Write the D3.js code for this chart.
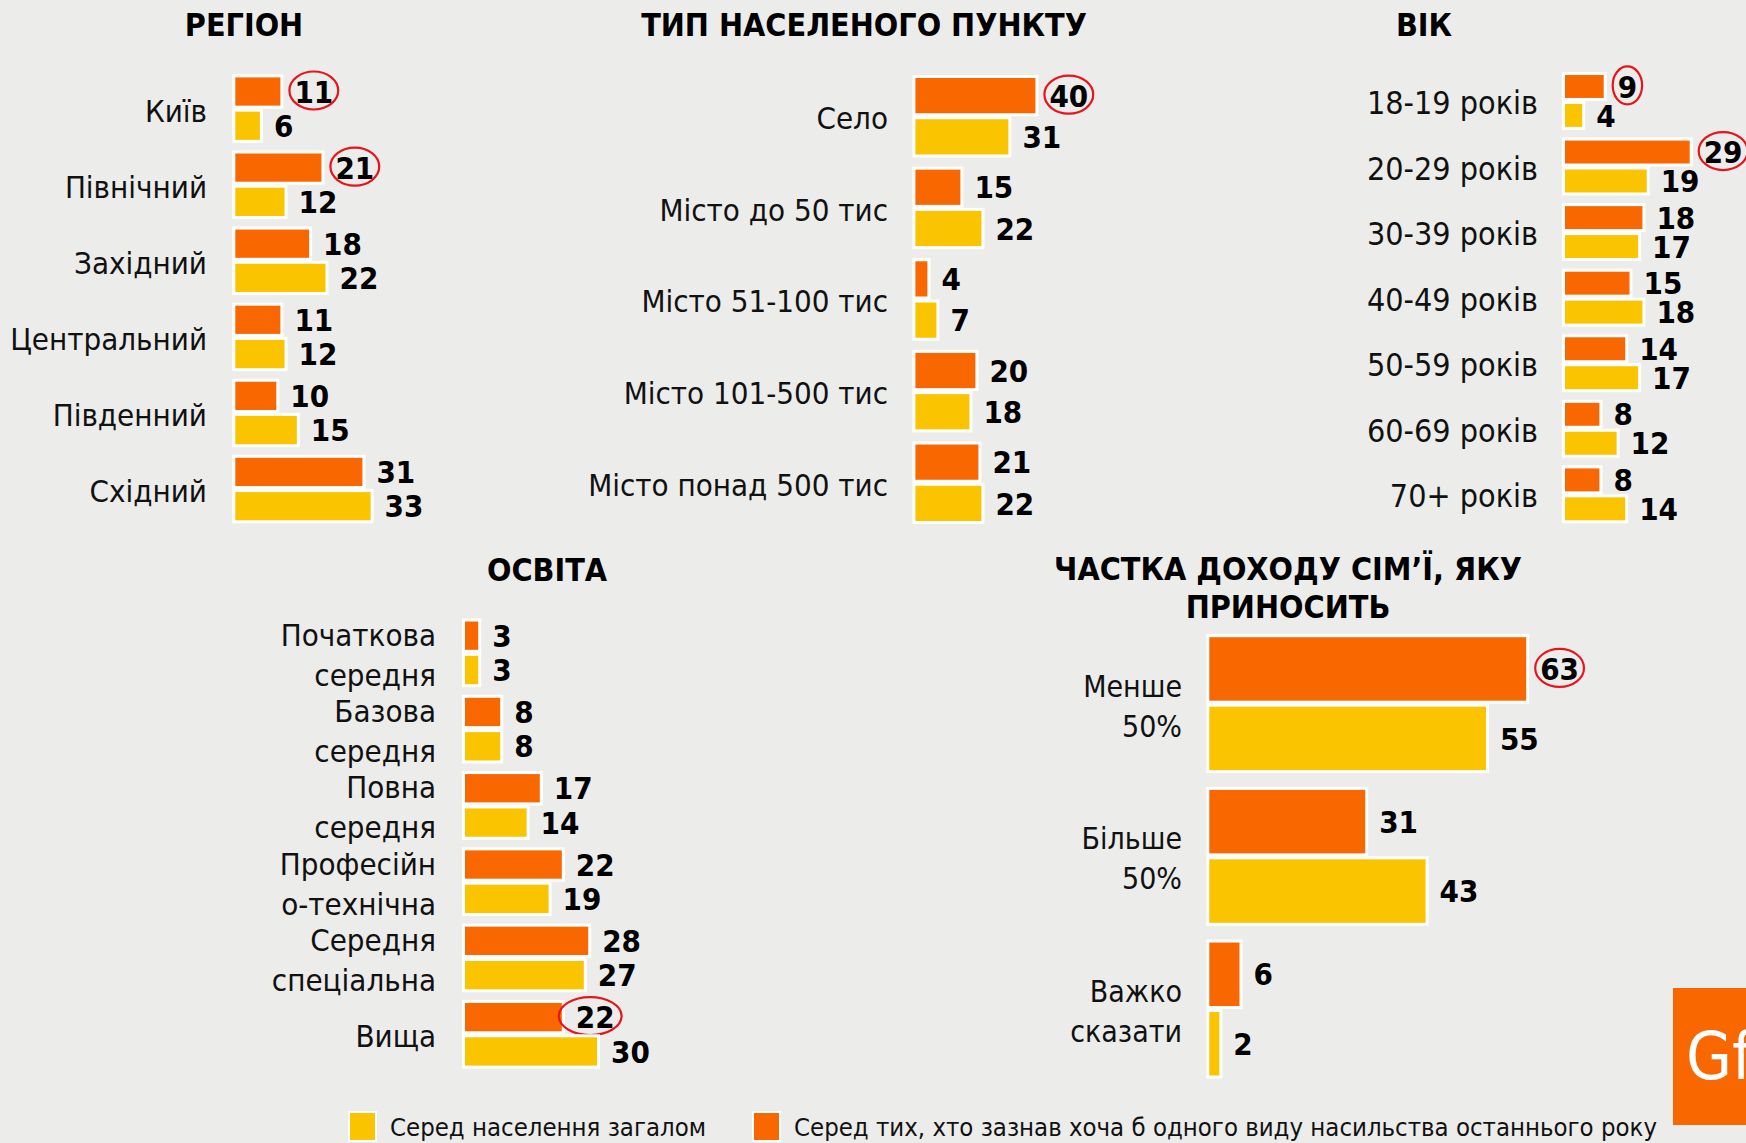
<!DOCTYPE html>
<html>
<head>
<meta charset="utf-8">
<script src="https://cdn.jsdelivr.net/npm/d3@7"></script>
<style>
body { margin: 0; background: #ecedeb; }
svg { display: block; }
text { font-family: "DejaVu Sans Condensed", "DejaVu Sans", sans-serif; font-stretch: condensed; }
</style>
</head>
<body>
<svg id="chart" width="1746" height="1143"></svg>
<script>
'use strict'

// Регіон
const regionLabels = [['Київ'], ['Північний'], ['Західний'], ['Центральний'], ['Південний'], ['Східний']]
const regionVictims = [11, 21, 18, 11, 10, 31]
const regionAll = [6, 12, 22, 12, 15, 33]

// Тип населеного пункту
const settlementLabels = [['Село'], ['Місто до 50 тис'], ['Місто 51-100 тис'], ['Місто 101-500 тис'], ['Місто понад 500 тис']]
const settlementVictims = [40, 15, 4, 20, 21]
const settlementAll = [31, 22, 7, 18, 22]

// Вік
const ageLabels = [['18-19 років'], ['20-29 років'], ['30-39 років'], ['40-49 років'], ['50-59 років'], ['60-69 років'], ['70+ років']]
const ageVictims = [9, 29, 18, 15, 14, 8, 8]
const ageAll = [4, 19, 17, 18, 17, 12, 14]

// Освіта
const eduLabels = [['Початкова', 'середня'], ['Базова', 'середня'], ['Повна', 'середня'], ['Професійн', 'о-технічна'], ['Середня', 'спеціальна'], ['Вища']]
const eduVictims = [3, 8, 17, 22, 28, 22]
const eduAll = [3, 8, 14, 19, 27, 30]

// Частка доходу
const incomeLabels = [['Менше', '50%'], ['Більше', '50%'], ['Важко', 'сказати']]
const incomeVictims = [63, 31, 6]
const incomeAll = [55, 43, 2]

// values circled in red (index of the category)
const regionMarked = [0, 1]
const settlementMarked = [0]
const ageMarked = [0, 1]
const eduMarked = [5]
const incomeMarked = [0]

const legendLabels = ['Серед населення загалом', 'Серед тих, хто зазнав хоча б одного виду насильства останнього року']

const ORANGE = '#f96800'
const YELLOW = '#fbc400'

const svg = d3.select('#chart')
svg.append('rect').attr('width', 1746).attr('height', 1143).attr('fill', '#ecedeb')

function drawPanel(p) {
    const g = svg.append('g')
    const n = p.labels.length
    const y = d3.scaleBand().domain(d3.range(n)).range(p.yRange).paddingInner(p.pad)
    const sub = d3.scaleBand().domain([0, 1]).range([0, y.bandwidth()])
    const x = d3.scaleLinear().domain([0, 10]).range([p.x0, p.x0 + p.k * 10])
    const h = sub.bandwidth()

    // title
    g.append('text')
        .attr('text-anchor', 'middle')
        .attr('font-weight', 'bold')
        .attr('font-size', 32)
        .selectAll('tspan').data(p.title).join('tspan')
        .attr('x', p.titleX)
        .attr('y', (d, i) => p.titleY + i * 38)
        .text(d => d)

    const rows = p.labels.map((lab, i) => ({ i, lab, vals: [p.victims[i], p.all[i]] }))
    const row = g.selectAll('g.row').data(rows).join('g')
        .attr('class', 'row')
        .attr('transform', d => `translate(0,${y(d.i)})`)

    // category labels
    row.append('text')
        .attr('text-anchor', 'end')
        .attr('font-size', p.labelSize || 31)
        .attr('fill', '#111')
        .selectAll('tspan').data(d => d.lab.map((t, j) => ({ t, j, n: d.lab.length }))).join('tspan')
        .attr('x', p.labelX)
        .attr('y', d => y.bandwidth() / 2 + 13 + (d.j - (d.n - 1) / 2) * 40)
        .text(d => d.t)

    const cells = row.selectAll('g.cell').data(d => d.vals.map((v, j) => ({ v, j, i: d.i }))).join('g')
        .attr('class', 'cell')

    cells.append('rect')
        .attr('x', p.x0 - 1.5)
        .attr('y', d => sub(d.j) + 1.5)
        .attr('width', d => x(d.v) - p.x0 + 3)
        .attr('height', h - 3)
        .attr('fill', d => d.j === 0 ? ORANGE : YELLOW)
        .attr('stroke', '#fff')
        .attr('stroke-width', 3)

    const vals = cells.append('text')
        .attr('x', d => x(d.v) + 14)
        .attr('y', d => sub(d.j) + h / 2)
        .attr('dy', '0.36em')
        .attr('font-size', 31)
        .attr('font-weight', 'bold')
        .attr('fill', '#000')
        .text(d => d.v)

    // red rings round the highlighted values
    vals.filter(d => d.j === 0 && p.marked.includes(d.i)).each(function (d) {
        const w = this.getComputedTextLength()
        d3.select(this.parentNode).append('ellipse')
            .attr('cx', x(d.v) + 14 + w / 2 + (p.ringShift || 0))
            .attr('cy', sub(0) + h / 2 - 1)
            .attr('rx', w / 2 + (p.ringPad || 5))
            .attr('ry', 19)
            .attr('fill', 'none')
            .attr('stroke', '#e8141b')
            .attr('stroke-width', 2.2)
    })
}

drawPanel({
    title: ['РЕГІОН'], titleX: 244, titleY: 36,
    labels: regionLabels, victims: regionVictims, all: regionAll, marked: regionMarked,
    yRange: [74.4, 523.3], pad: 0.1, x0: 235.3, k: 4.1, labelX: 207
})
drawPanel({
    title: ['ТИП НАСЕЛЕНОГО ПУНКТУ'], titleX: 864, titleY: 36,
    labels: settlementLabels, victims: settlementVictims, all: settlementAll, marked: settlementMarked,
    yRange: [75, 524], pad: 0.1, x0: 915.4, k: 3.0, labelX: 888
})
drawPanel({
    title: ['ВІК'], titleX: 1424, titleY: 36,
    labels: ageLabels, victims: ageVictims, all: ageAll, marked: ageMarked,
    yRange: [72, 523.3], pad: 0.117, x0: 1565, k: 4.3, labelX: 1538, labelSize: 32
})
drawPanel({
    title: ['ОСВІТА'], titleX: 547, titleY: 581,
    labels: eduLabels, victims: eduVictims, all: eduAll, marked: eduMarked,
    yRange: [618.5, 1068.6], pad: 0.1, x0: 465, k: 4.4, labelX: 436,
    ringShift: -5, ringPad: 12
})
drawPanel({
    title: ['ЧАСТКА ДОХОДУ СІМ’Ї, ЯКУ', 'ПРИНОСИТЬ'], titleX: 1288, titleY: 580,
    labels: incomeLabels, victims: incomeVictims, all: incomeAll, marked: incomeMarked,
    yRange: [634.2, 1078.5], pad: 0.09, x0: 1209.3, k: 5.03, labelX: 1182, labelSize: 30
})

// legend
const legend = svg.append('g')
const legendItems = [
    { label: legendLabels[0], color: YELLOW, x: 349 },
    { label: legendLabels[1], color: ORANGE, x: 753 }
]
legend.selectAll('rect').data(legendItems).join('rect')
    .attr('x', d => d.x)
    .attr('y', 1112)
    .attr('width', 27)
    .attr('height', 29)
    .attr('fill', d => d.color)
    .attr('stroke', '#fff')
    .attr('stroke-width', 2)
legend.selectAll('text').data(legendItems).join('text')
    .attr('x', d => d.x + 41)
    .attr('y', 1136)
    .attr('font-size', 25.5)
    .attr('fill', '#111')
    .text(d => d.label)

// GfK corner logo, cut off by the right edge
svg.append('rect')
    .attr('x', 1673).attr('y', 988).attr('width', 80).attr('height', 137)
    .attr('fill', ORANGE)
svg.append('text')
    .attr('x', 1686).attr('y', 1079)
    .attr('font-size', 66)
    .attr('fill', '#fff')
    .text('GfK')
</script>
</body>
</html>
